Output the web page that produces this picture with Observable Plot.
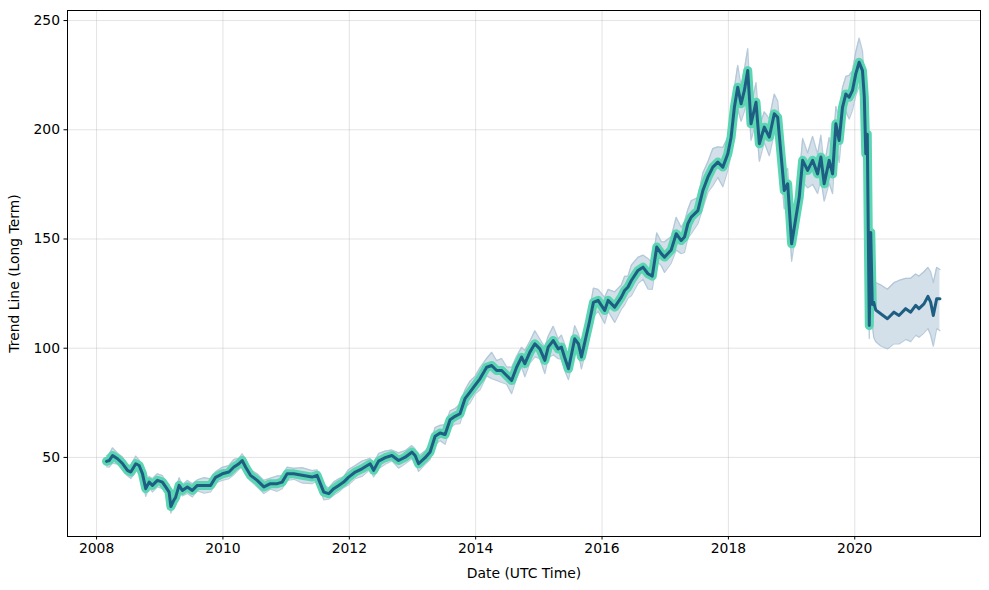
<!DOCTYPE html>
<html><head><meta charset="utf-8">
<script src="https://cdn.jsdelivr.net/npm/d3@7"></script>
<script src="https://cdn.jsdelivr.net/npm/@observablehq/plot@0.6"></script>
<style>html,body{margin:0;padding:0;background:#fff;}</style>
</head><body><div id="chart"></div>
<script>
// Historical (actual) series, decimal year
const histYear = [
  2008.158,2008.201,2008.253,2008.332,2008.411,2008.489,2008.542,2008.621,2008.674,2008.726,2008.778,2008.832,2008.884,2008.963,
  2009.042,2009.094,2009.148,2009.176,2009.216,2009.252,2009.306,2009.358,2009.437,2009.516,2009.595,2009.701,2009.805,2009.884,2009.990,
  2010.095,2010.174,2010.253,2010.305,2010.358,2010.436,2010.542,2010.648,2010.752,2010.858,2010.937,
  2011.016,2011.122,2011.253,2011.411,2011.490,2011.542,2011.596,2011.674,2011.753,2011.832,2011.911,2011.990,
  2012.094,2012.200,2012.331,2012.385,2012.464,2012.568,2012.674,2012.780,2012.884,2012.990,
  2013.042,2013.096,2013.200,2013.279,2013.358,2013.437,2013.516,2013.595,2013.673,2013.752,2013.831,2013.910,2013.989,
  2014.068,2014.174,2014.253,2014.332,2014.411,2014.490,2014.569,2014.648,2014.727,2014.779,2014.858,2014.937,
  2015.016,2015.095,2015.148,2015.227,2015.306,2015.358,2015.406,2015.469,2015.568,2015.627,2015.674,2015.737,2015.800,2015.864,2015.938,
  2016.042,2016.096,2016.200,2016.306,2016.358,2016.411,2016.464,2016.569,2016.648,2016.727,2016.795,2016.866,2016.937,2016.989,
  2017.095,2017.174,2017.253,2017.305,2017.359,2017.411,2017.517,2017.596,2017.675,2017.754,2017.833,2017.912,2017.991,
  2018.043,2018.095,2018.148,2018.201,2018.253,2018.306,2018.332,2018.358,2018.437,2018.490,2018.568,2018.647,2018.726,2018.780,2018.832,2018.884,2018.938,
  2019.001,2019.069,2019.121,2019.175,2019.254,2019.333,2019.412,2019.464,2019.516,2019.595,2019.649,2019.701,2019.753,2019.806,2019.859,2019.911,2019.964,
  2020.016,2020.069,2020.122,2020.151,2020.174,2020.198,2020.214,2020.230,2020.253,2020.277
];
const histValue = [
  48.2,48.6,50.9,49.4,47.2,44.1,43.3,47.1,46.3,42.6,35.7,38.7,37.2,39.5,
  38.7,36.5,34.1,27.5,30.0,31.8,37.2,34.9,36.5,34.9,37.2,37.2,37.2,40.9,42.5,
  43.3,45.6,47.1,48.6,45.6,41.8,39.5,36.5,38.0,38.0,38.7,
  42.5,42.5,41.8,41.0,41.8,38.0,34.1,33.4,35.7,37.2,38.7,41.0,
  43.3,44.8,47.1,44.1,48.3,49.9,50.9,48.6,50.1,52.4,
  50.9,47.1,49.9,52.5,59.7,61.2,60.5,67.3,68.8,70.0,76.9,79.9,83.0,
  86.0,91.3,92.1,89.8,89.8,87.5,85.2,91.3,95.9,92.9,98.2,102.0,
  99.7,94.4,100.5,103.5,99.7,100.5,96.0,90.6,104.3,102.0,96.0,104.0,112.0,121.0,121.9,
  117.3,121.9,118.8,123.4,126.4,128.0,131.0,135.6,137.1,134.1,133.0,146.3,143.3,141.7,
  145.0,152.4,149.3,150.9,157.0,160.0,163.0,172.2,178.3,182.9,185.2,182.9,189.0,
  196.6,210.3,219.5,211.9,218.0,227.1,214.9,202.7,212.6,193.6,201.2,196.6,207.3,205.7,189.0,172.2,175.3,
  147.8,160.0,169.1,186.0,181.4,186.0,179.8,187.5,175.3,186.0,179.8,202.7,195.1,210.3,216.4,214.9,218.0,
  225.6,230.9,227.1,215.0,189.0,198.0,153.0,110.4,153.0,120.0
];
// Half-width of the uncertainty band around the historical trend
const histSpread = [
  2.5,3,3.5,2.5,3,2.5,3,3.5,2.5,3,3.5,2.5,3,3,
  3,2.5,3.5,3,2.5,3,3.5,2.5,3,3,2.5,3.5,3,2.5,3,
  3,3.5,2.5,3,3.5,2.5,3,3,2.5,3.5,3,
  3,2.5,3.5,3,2.5,3,3.5,2.5,3,3,2.5,3.5,
  3,3.5,2.5,3,3.5,3,2.5,3.5,3,3,
  3,3.5,3,3.5,4,3.5,4.5,4,3.5,4.5,4,5,4,
  5,4,6,4.5,5.5,4,6,5,4.5,6,5,6,
  4.5,6,5,6.5,4.5,5.5,6,5,6,4.5,5.5,6,5,6.5,5,
  6,5,7,5.5,6.5,5,7,6,5.5,7,6,6.5,5.5,7,
  6,7.5,6,7,6.5,7.5,6,8,7,8.5,7,9,7.5,
  8,9,10,8,9.5,10,8,7.5,9,8,7,8.5,9,7.5,8,8.5,7,
  8,7,9,10,8,11,9,10,8,10.5,9,8,10,9,8,10,9,
  10,11,9,8,7,8,7,6,8,9
];
// Forecast series
const fcYear  = [2020.300,2020.332,2020.411,2020.517,2020.621,2020.700,2020.806,2020.885,2020.964,2021.016,2021.095,2021.158,2021.201,2021.243,2021.296,2021.348];
const fcValue = [121.0,117.5,115.8,113.5,116.5,115.0,118.1,116.5,119.6,118.1,120.3,123.7,121.1,115.0,122.6,122.6];
const fcLower = [105,103,101,99.7,102,102,104,103,106,105,107,109,106,101,109,108];
const fcUpper = [132,130,129,127,130,131,132,132,134,133,135,137,135,130,137,136];

const xTicks = [2008,2010,2012,2014,2016,2018,2020];
const yTicks = [50,100,150,200,250];

const hist = histYear.map((x,i)=>({x, y: histValue[i], lo: histValue[i]-histSpread[i], hi: histValue[i]+histSpread[i]}));
const fc = fcYear.map((x,i)=>({x, y: fcValue[i], lo: fcLower[i], hi: fcUpper[i]}));
const trend = hist.concat(fc);

const band = "#a9c1d3";
const chart = Plot.plot({
  width: 989, height: 590,
  marginLeft: 67, marginRight: 9, marginTop: 10, marginBottom: 54,
  style: {fontFamily: "DejaVu Sans", fontSize: "13.9px", color: "black", background: "white"},
  x: {domain: [2007.54, 2021.99]},
  y: {domain: [13.8, 254.6]},
  marks: [
    Plot.gridX(xTicks, {stroke: "#b0b0b0", strokeOpacity: 0.45, strokeWidth: 0.8}),
    Plot.gridY(yTicks, {stroke: "#b0b0b0", strokeOpacity: 0.45, strokeWidth: 0.8}),
    Plot.areaY(trend, {x: "x", y1: "lo", y2: "hi", fill: band, fillOpacity: 0.5}),
    Plot.lineY(trend, {x: "x", y: "lo", stroke: band, strokeOpacity: 0.8, strokeWidth: 1.3}),
    Plot.lineY(trend, {x: "x", y: "hi", stroke: band, strokeOpacity: 0.8, strokeWidth: 1.3}),
    Plot.lineY(hist, {x: "x", y: "y", stroke: "#5ad6b3", strokeWidth: 9, strokeLinejoin: "round", strokeLinecap: "round"}),
    Plot.lineY(trend, {x: "x", y: "y", stroke: "#1f5e83", strokeWidth: 3, strokeLinejoin: "round"}),
    Plot.axisX(xTicks, {tickSize: 3.5, tickPadding: 3.5, tickFormat: "d", label: "Date (UTC Time)", labelAnchor: "center", labelArrow: "none", labelOffset: 41}),
    Plot.axisY(yTicks, {tickSize: 3.5, tickPadding: 4, tickFormat: "d", label: "Trend Line (Long Term)", labelAnchor: "center", labelArrow: "none", labelOffset: 58}),
    Plot.frame({stroke: "black", strokeWidth: 1})
  ]
});
document.getElementById("chart").appendChild(chart);
</script>
</body></html>
